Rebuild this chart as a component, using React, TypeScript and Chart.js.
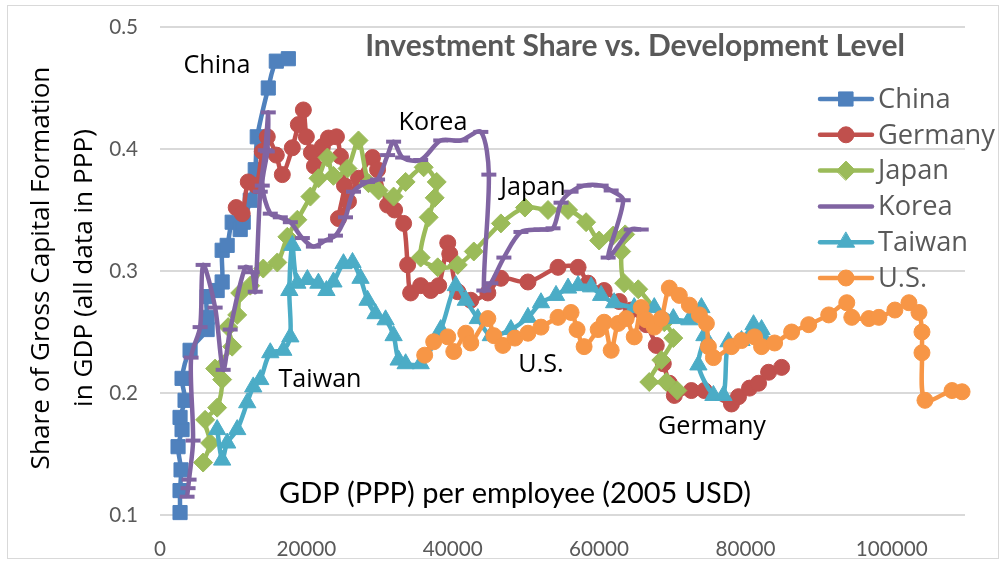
import React, { useEffect, useRef } from 'react';
import { Chart, registerables } from 'chart.js';

Chart.register(...registerables);

// ---------- data ----------
const seriesNames = ['China', 'Germany', 'Japan', 'Korea', 'Taiwan', 'U.S.'];
const seriesColors = ['#4F81BD', '#C0504D', '#9BBB59', '#8064A2', '#4BACC6', '#F79646'];

const chinaX = [2740, 2740, 2877, 2466, 3014, 2740, 3425, 3014, 4110, 6439, 6439, 6439, 7809, 8494, 8494, 9179, 9864, 10960, 11371, 12330, 13015, 13289, 14796, 15892, 17536];
const chinaY = [0.102, 0.120, 0.137, 0.156, 0.170, 0.180, 0.194, 0.212, 0.235, 0.252, 0.262, 0.279, 0.284, 0.291, 0.317, 0.321, 0.340, 0.334, 0.340, 0.358, 0.383, 0.410, 0.450, 0.472, 0.474];

const germanyX = [10412, 11234, 12056, 13152, 13974, 14659, 15892, 16714, 18084, 18906, 19591, 20002, 20687, 21098, 22194, 23016, 24112, 24660, 25208, 24386, 25756, 27126, 29044, 29729, 31099, 32058, 33291, 33839, 34250, 35620, 36990, 38086, 39319, 39593, 40689, 42470, 44799, 46580, 50279, 54389, 57129, 58499, 60691, 62746, 64390, 66445, 67815, 68774, 69596, 70281, 72610, 74391, 78090, 79049, 80556, 81789, 83159, 84940];
const germanyY = [0.352, 0.347, 0.373, 0.370, 0.398, 0.410, 0.395, 0.379, 0.401, 0.420, 0.432, 0.410, 0.397, 0.386, 0.402, 0.409, 0.410, 0.394, 0.370, 0.343, 0.357, 0.376, 0.393, 0.383, 0.354, 0.350, 0.339, 0.305, 0.282, 0.288, 0.284, 0.288, 0.323, 0.314, 0.283, 0.276, 0.282, 0.294, 0.291, 0.303, 0.303, 0.290, 0.284, 0.275, 0.268, 0.256, 0.239, 0.224, 0.208, 0.198, 0.202, 0.202, 0.191, 0.197, 0.204, 0.208, 0.217, 0.221];

const japanX = [5891, 6850, 6165, 7809, 8494, 7535, 9864, 9316, 10549, 10960, 12330, 14111, 16029, 17399, 18769, 20550, 21646, 22879, 23701, 25619, 27126, 28496, 29866, 31921, 33565, 36031, 37812, 37538, 36716, 35620, 37949, 40689, 42881, 46580, 49868, 53019, 55759, 58225, 60006, 61924, 63568, 63020, 63431, 65349, 68911, 70144, 68500, 66856, 69185, 70692];
const japanY = [0.143, 0.159, 0.178, 0.188, 0.211, 0.220, 0.238, 0.254, 0.264, 0.282, 0.288, 0.302, 0.307, 0.328, 0.342, 0.361, 0.376, 0.393, 0.378, 0.384, 0.407, 0.372, 0.366, 0.361, 0.373, 0.385, 0.373, 0.360, 0.344, 0.311, 0.303, 0.305, 0.316, 0.339, 0.352, 0.350, 0.350, 0.340, 0.325, 0.329, 0.330, 0.316, 0.290, 0.285, 0.258, 0.245, 0.227, 0.209, 0.209, 0.202];

const koreaX = [3699, 3836, 3973, 4521, 4247, 5480, 5891, 7535, 8631, 9590, 11645, 12604, 13015, 13700, 14385, 14796, 14659, 13974, 15070, 16440, 17810, 19454, 20961, 22605, 23975, 25345, 26441, 28359, 29729, 31099, 31921, 33154, 35620, 38360, 41100, 43840, 44936, 44251, 45210, 46991, 49320, 52060, 53704, 54800, 56170, 57951, 60280, 61650, 63294, 61239, 64390, 65760];
const koreaY = [0.115, 0.122, 0.129, 0.161, 0.229, 0.254, 0.305, 0.270, 0.219, 0.252, 0.303, 0.299, 0.283, 0.365, 0.399, 0.430, 0.398, 0.370, 0.347, 0.344, 0.340, 0.327, 0.320, 0.325, 0.329, 0.344, 0.365, 0.373, 0.375, 0.395, 0.406, 0.393, 0.391, 0.407, 0.407, 0.414, 0.379, 0.284, 0.290, 0.311, 0.332, 0.334, 0.335, 0.356, 0.365, 0.370, 0.370, 0.366, 0.358, 0.311, 0.334, 0.334];

const taiwanX = [7809, 8494, 9179, 10549, 11919, 12741, 13700, 15070, 16851, 17810, 17673, 18084, 18769, 20139, 21646, 22742, 23701, 25071, 26304, 27400, 28359, 29455, 30825, 31921, 32606, 33565, 35620, 38360, 40415, 41785, 43429, 45210, 47950, 50279, 52060, 54115, 55759, 57129, 58910, 60280, 62061, 64801, 67541, 70144, 72336, 73980, 74391, 73569, 75624, 76994, 77679, 79460, 81104, 82200, 82885];
const taiwanY = [0.170, 0.145, 0.159, 0.170, 0.192, 0.205, 0.211, 0.233, 0.235, 0.246, 0.284, 0.321, 0.290, 0.293, 0.290, 0.284, 0.291, 0.306, 0.307, 0.294, 0.276, 0.265, 0.260, 0.247, 0.227, 0.224, 0.224, 0.252, 0.288, 0.276, 0.261, 0.247, 0.252, 0.262, 0.274, 0.280, 0.286, 0.288, 0.287, 0.280, 0.274, 0.270, 0.270, 0.261, 0.260, 0.270, 0.247, 0.223, 0.198, 0.198, 0.242, 0.243, 0.256, 0.252, 0.241];

const usX = [36168, 37401, 39319, 40141, 41785, 42470, 44799, 45621, 46854, 48498, 50279, 52060, 54389, 56170, 56992, 57951, 59869, 60691, 61650, 62609, 63705, 64801, 65760, 66445, 67541, 68500, 69596, 70966, 72336, 73706, 74665, 74939, 75624, 78090, 79460, 81241, 82200, 83981, 86310, 88639, 91379, 93845, 94530, 96859, 98229, 100421, 102339, 103709, 104120, 104120, 104531, 108230, 109600];
const usY = [0.231, 0.242, 0.246, 0.234, 0.249, 0.241, 0.261, 0.247, 0.239, 0.245, 0.249, 0.254, 0.262, 0.266, 0.252, 0.238, 0.252, 0.258, 0.235, 0.257, 0.261, 0.246, 0.270, 0.260, 0.254, 0.261, 0.286, 0.280, 0.272, 0.264, 0.257, 0.238, 0.229, 0.238, 0.243, 0.246, 0.238, 0.241, 0.250, 0.256, 0.264, 0.274, 0.262, 0.261, 0.262, 0.268, 0.274, 0.266, 0.250, 0.233, 0.194, 0.202, 0.201];

const seriesX = [chinaX, germanyX, japanX, koreaX, taiwanX, usX];
const seriesY = [chinaY, germanyY, japanY, koreaY, taiwanY, usY];

const xTicks = [0, 20000, 40000, 60000, 80000, 100000];
const yTicks = [0.1, 0.2, 0.3, 0.4, 0.5];
const xMin = 0;
const xMax = 110000;
const yMin = 0.1;
const yMax = 0.5;

const chartTitle = 'Investment Share vs. Development Level';
const xTitle = 'GDP (PPP) per employee (2005 USD)';
const yTitle1 = 'Share of Gross Capital Formation';
const yTitle2 = 'in GDP (all data in PPP)';

// ---------- styles ----------
const pointStyles = ['rect', 'circle', 'rectRot', 'line', 'triangle', 'circle'];
const pointRadii = [10, 8, 9.5, 7.5, 10, 8];

const annotationLabels = [
  { text: 'China', cx: 217, cy: 66 },
  { text: 'Korea', cx: 433, cy: 123 },
  { text: 'Japan', cx: 533, cy: 188 },
  { text: 'Taiwan', cx: 320, cy: 380 },
  { text: 'U.S.', cx: 541, cy: 365 },
  { text: 'Germany', cx: 712, cy: 427 },
];

const SANS = '"Open Sans", "Noto Sans", sans-serif';
const NARROW = 'Lato, "Liberation Sans", sans-serif';

function fitSize(ctx: CanvasRenderingContext2D, text: string, target: number, family: string, weight = 'normal') {
  ctx.font = `${weight} 100px ${family}`;
  const w = ctx.measureText(text).width;
  return (100 * target) / w;
}

function drawMarker(ctx: CanvasRenderingContext2D, style: string, x: number, y: number, r: number, color: string) {
  ctx.save();
  ctx.fillStyle = color;
  ctx.strokeStyle = color;
  ctx.lineWidth = 1;
  ctx.beginPath();
  if (style === 'rect') {
    const s = Math.SQRT1_2 * r;
    ctx.rect(x - s, y - s, 2 * s, 2 * s);
    ctx.fill();
    ctx.stroke();
  } else if (style === 'circle') {
    ctx.arc(x, y, r, 0, Math.PI * 2);
    ctx.fill();
    ctx.stroke();
  } else if (style === 'rectRot') {
    ctx.moveTo(x - r, y);
    ctx.lineTo(x, y - r);
    ctx.lineTo(x + r, y);
    ctx.lineTo(x, y + r);
    ctx.closePath();
    ctx.fill();
    ctx.stroke();
  } else if (style === 'triangle') {
    ctx.moveTo(x, y - r);
    ctx.lineTo(x + r * 0.866, y + r * 0.5);
    ctx.lineTo(x - r * 0.866, y + r * 0.5);
    ctx.closePath();
    ctx.fill();
    ctx.stroke();
  }
  ctx.restore();
}

const overlayPlugin = {
  id: 'overlay',
  afterDraw(chart: any) {
    const ctx: CanvasRenderingContext2D = chart.ctx;
    ctx.save();

    // outer chart border
    ctx.strokeStyle = '#D9D9D9';
    ctx.lineWidth = 1;
    ctx.strokeRect(7.5, 5.5, 991, 553);

    ctx.textAlign = 'center';
    ctx.textBaseline = 'middle';

    // chart title
    const tSize = fitSize(ctx, chartTitle, 540, NARROW, 'bold');
    ctx.font = `bold ${tSize}px ${NARROW}`;
    ctx.fillStyle = '#595959';
    ctx.fillText(chartTitle, 635, 46);

    // x title (inside plot)
    const xsz = fitSize(ctx, xTitle, 472, NARROW);
    ctx.font = `normal ${xsz}px ${NARROW}`;
    ctx.fillStyle = '#000000';
    ctx.fillText(xTitle, 515, 494);

    // y title (rotated, two lines)
    const ysz = fitSize(ctx, yTitle1, 403, SANS);
    ctx.save();
    ctx.translate(62, 268);
    ctx.rotate(-Math.PI / 2);
    ctx.font = `normal ${ysz}px ${SANS}`;
    ctx.fillStyle = '#000000';
    ctx.fillText(yTitle1, 0, -20);
    ctx.fillText(yTitle2, 0, 23);
    ctx.restore();

    // annotations
    const aSize = fitSize(ctx, 'Germany', 108, SANS);
    ctx.font = `normal ${aSize}px ${SANS}`;
    ctx.fillStyle = '#000000';
    annotationLabels.forEach((a) => ctx.fillText(a.text, a.cx, a.cy));

    // legend
    const lSize = fitSize(ctx, 'Germany', 117, SANS);
    ctx.font = `normal ${lSize}px ${SANS}`;
    ctx.textAlign = 'left';
    seriesNames.forEach((name, i) => {
      const y = 99 + i * 35.8;
      const color = seriesColors[i];
      ctx.strokeStyle = color;
      ctx.lineWidth = 4.5;
      ctx.lineCap = 'round';
      ctx.beginPath();
      ctx.moveTo(820, y);
      ctx.lineTo(872, y);
      ctx.stroke();
      drawMarker(ctx, pointStyles[i], 846, y, pointRadii[i], color);
      ctx.fillStyle = '#595959';
      ctx.fillText(name, 878, y + 1);
    });

    ctx.restore();
  },
};

export default function App() {
  const canvasRef = useRef<HTMLCanvasElement | null>(null);

  useEffect(() => {
    const canvas = canvasRef.current;
    if (!canvas) return;
    const mctx = canvas.getContext('2d') as CanvasRenderingContext2D;
    const tickSize = fitSize(mctx, '100000', 72, NARROW);

    const datasets = seriesNames.map((name, i) => ({
      label: name,
      data: seriesX[i].map((x, j) => ({ x, y: seriesY[i][j] })),
      borderColor: seriesColors[i],
      backgroundColor: seriesColors[i],
      borderWidth: 4.5,
      tension: 0.3,
      pointStyle: pointStyles[i],
      pointRadius: pointRadii[i],
      pointBorderWidth: i === 3 ? 4 : 1,
      pointBackgroundColor: seriesColors[i],
      pointBorderColor: seriesColors[i],
      order: 5 - i,
      clip: false as any,
    }));

    const chart = new Chart(canvas, {
      type: 'line',
      data: { datasets },
      plugins: [overlayPlugin],
      options: {
        responsive: false,
        animation: false,
        events: [],
        layout: { padding: { left: 0, right: 41, top: 27, bottom: 0 } },
        scales: {
          x: {
            type: 'linear',
            min: xMin,
            max: xMax,
            afterBuildTicks: (scale: any) => {
              scale.ticks = xTicks.map((v) => ({ value: v }));
            },
            afterFit: (scale: any) => {
              scale.height = 48;
              scale.paddingLeft = 0;
              scale.paddingRight = 0;
            },
            grid: { display: false, drawTicks: false },
            border: { display: false },
            ticks: {
              padding: 22,
              color: '#595959',
              font: { family: NARROW, size: tickSize },
              maxRotation: 0,
              autoSkip: false,
              callback: (v: any) => String(v),
            },
          },
          y: {
            type: 'linear',
            min: yMin,
            max: yMax,
            afterBuildTicks: (scale: any) => {
              scale.ticks = yTicks.map((v) => ({ value: v }));
            },
            afterFit: (scale: any) => {
              scale.width = 160;
              scale.paddingTop = 0;
              scale.paddingBottom = 0;
            },
            grid: { color: '#D9D9D9', lineWidth: 2, drawTicks: false },
            border: { display: false },
            ticks: {
              padding: 22,
              color: '#595959',
              font: { family: NARROW, size: tickSize },
              callback: (v: any) => Number(v).toFixed(1),
            },
          },
        },
        plugins: {
          legend: { display: false },
          tooltip: { enabled: false },
          title: { display: false },
        },
      },
    } as any);

    return () => {
      chart.destroy();
    };
  }, []);

  return (
    <div style={{ position: 'absolute', left: 0, top: 0, width: 1006, height: 563, background: '#fff' }}>
      <canvas ref={canvasRef} width={1006} height={563} style={{ display: 'block' }} />
    </div>
  );
}
